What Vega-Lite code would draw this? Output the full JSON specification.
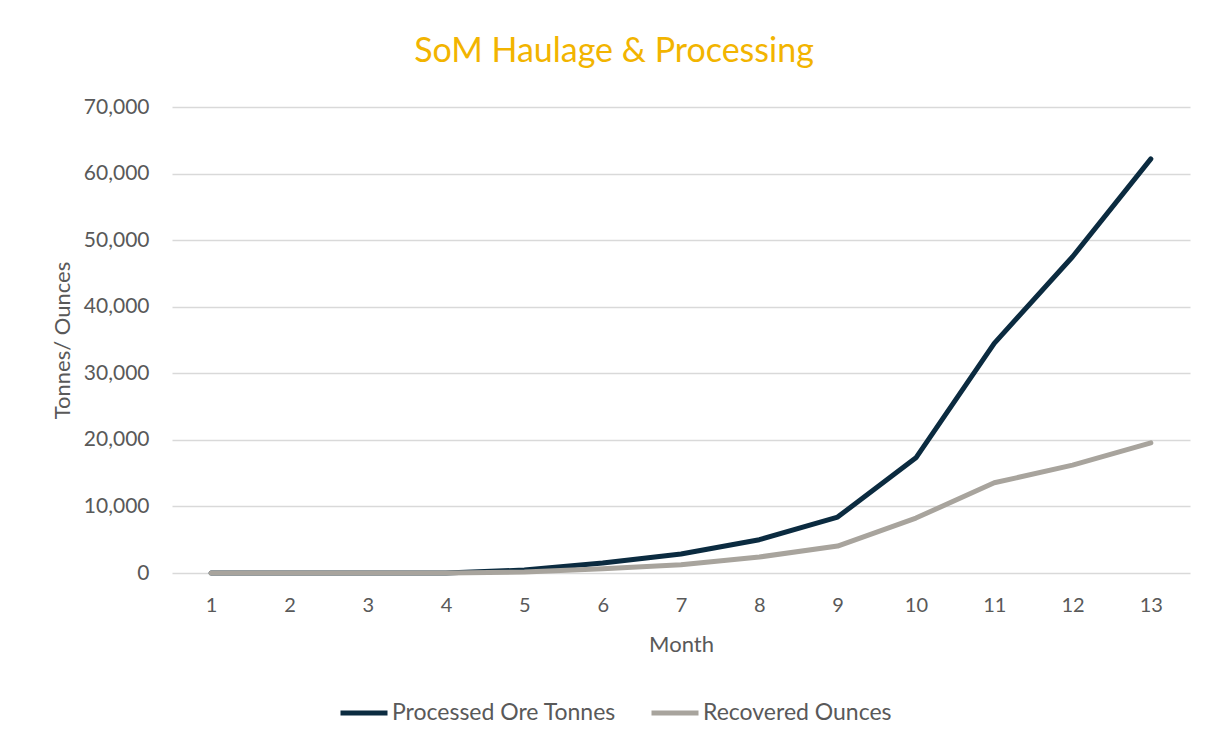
{
  "$schema": "https://vega.github.io/schema/vega-lite/v6.json",
  "width": 1018,
  "height": 466,
  "autosize": {"type": "none"},
  "padding": {"left": 172, "top": 107, "right": 26, "bottom": 174},
  "background": "white",
  "config": {
    "font": "Lato",
    "view": {"stroke": null}
  },
  "title": {
    "text": "SoM Haulage & Processing",
    "color": "#F2B400",
    "fontSize": 34,
    "font": "Lato",
    "fontWeight": "normal",
    "anchor": "middle",
    "dx": -67,
    "offset": 27
  },
  "data": {
    "values": [
      {"month": 1, "series": "Processed Ore Tonnes", "value": 0},
      {"month": 2, "series": "Processed Ore Tonnes", "value": 0},
      {"month": 3, "series": "Processed Ore Tonnes", "value": 0},
      {"month": 4, "series": "Processed Ore Tonnes", "value": 0},
      {"month": 5, "series": "Processed Ore Tonnes", "value": 450},
      {"month": 6, "series": "Processed Ore Tonnes", "value": 1500},
      {"month": 7, "series": "Processed Ore Tonnes", "value": 2850},
      {"month": 8, "series": "Processed Ore Tonnes", "value": 5000},
      {"month": 9, "series": "Processed Ore Tonnes", "value": 8400},
      {"month": 10, "series": "Processed Ore Tonnes", "value": 17300},
      {"month": 11, "series": "Processed Ore Tonnes", "value": 34500},
      {"month": 12, "series": "Processed Ore Tonnes", "value": 47500},
      {"month": 13, "series": "Processed Ore Tonnes", "value": 62200},
      {"month": 1, "series": "Recovered Ounces", "value": 0},
      {"month": 2, "series": "Recovered Ounces", "value": 0},
      {"month": 3, "series": "Recovered Ounces", "value": 0},
      {"month": 4, "series": "Recovered Ounces", "value": 0},
      {"month": 5, "series": "Recovered Ounces", "value": 150},
      {"month": 6, "series": "Recovered Ounces", "value": 650},
      {"month": 7, "series": "Recovered Ounces", "value": 1250},
      {"month": 8, "series": "Recovered Ounces", "value": 2400},
      {"month": 9, "series": "Recovered Ounces", "value": 4050},
      {"month": 10, "series": "Recovered Ounces", "value": 8250},
      {"month": 11, "series": "Recovered Ounces", "value": 13550},
      {"month": 12, "series": "Recovered Ounces", "value": 16200},
      {"month": 13, "series": "Recovered Ounces", "value": 19550}
    ]
  },
  "mark": {"type": "line", "strokeWidth": 5, "strokeCap": "round", "strokeJoin": "round"},
  "encoding": {
    "x": {
      "field": "month",
      "type": "ordinal",
      "scale": {"type": "point", "padding": 0.5},
      "axis": {
        "title": "Month",
        "titleFontSize": 22,
        "titleFontWeight": "normal",
        "titleColor": "#595959",
        "titlePadding": 19,
        "labelAngle": 0,
        "labelFontSize": 20,
        "labelColor": "#595959",
        "labelPadding": 22,
        "ticks": false,
        "domain": false,
        "grid": false
      }
    },
    "y": {
      "field": "value",
      "type": "quantitative",
      "scale": {"domain": [0, 70000], "nice": false},
      "axis": {
        "title": "Tonnes/ Ounces",
        "titleFontSize": 22,
        "titleFontWeight": "normal",
        "titleColor": "#595959",
        "titleX": -110,
        "titleY": 233,
        "titleAngle": -90,
        "titleAlign": "center",
        "titleBaseline": "middle",
        "values": [0, 10000, 20000, 30000, 40000, 50000, 60000, 70000],
        "format": ",.0f",
        "labelFontSize": 21,
        "labelColor": "#595959",
        "labelPadding": 23,
        "ticks": false,
        "domain": false,
        "grid": true,
        "gridColor": "#D9D9D9",
        "gridWidth": 1.5
      }
    },
    "color": {
      "field": "series",
      "type": "nominal",
      "scale": {
        "domain": ["Processed Ore Tonnes", "Recovered Ounces"],
        "range": ["#0B2B40", "#A8A49D"]
      },
      "legend": {
        "title": null,
        "orient": "none",
        "direction": "horizontal",
        "legendX": 166,
        "legendY": 580,
        "symbolType": "stroke",
        "symbolSize": 2209,
        "symbolStrokeWidth": 5,
        "labelFontSize": 23,
        "labelColor": "#595959",
        "labelOffset": 2,
        "labelLimit": 0,
        "columnPadding": 25
      }
    }
  }
}
